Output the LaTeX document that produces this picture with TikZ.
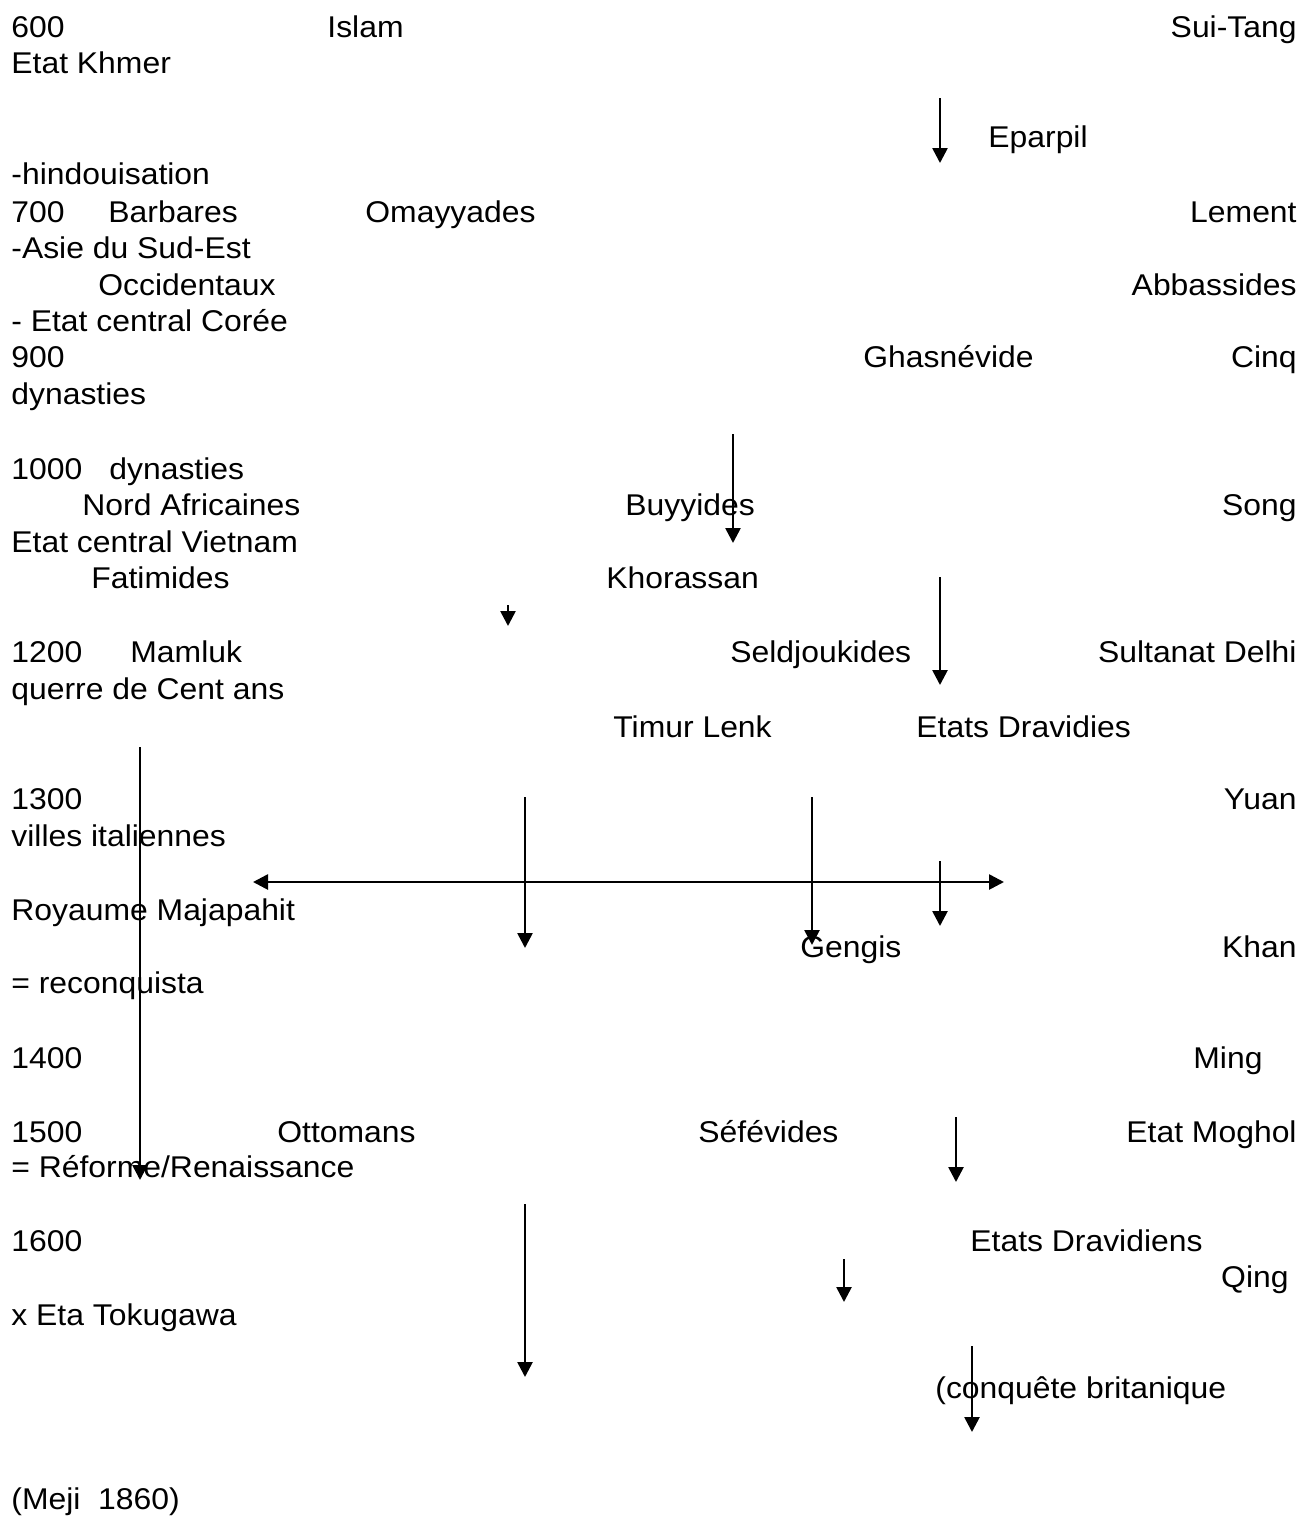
\documentclass[tikz,border=0pt]{standalone}
\usepackage{fontspec}
\setmainfont{Liberation Sans}[FakeStretch=1.063]
\usetikzlibrary{arrows.meta}

\begin{document}
\begin{tikzpicture}[x=0.5pt,y=-0.5pt,
  lbl/.style={anchor=base west,inner sep=0pt,font=\fontsize{15}{18}\selectfont},
  rlbl/.style={lbl,anchor=base east},
  arr/.style={-{Triangle[length=7.5pt,width=7.5pt]},line width=1.3pt},
  darr/.style={{Triangle[length=7.5pt,width=7.5pt]}-{Triangle[length=7.5pt,width=7.5pt]},line width=1.3pt}]
  \fill[white] (0,0) rectangle (1301,1517);
  \useasboundingbox (0,0) rectangle (1301,1517);
  % left column
  \node[lbl] (y600) at (11,37) {600};
  \node[lbl] (khmer) at (11,73) {Etat Khmer};
  \node[lbl] (hindou) at (11,184) {-hindouisation};
  \node[lbl] (y700) at (11,222) {700};
  \node[lbl] (asie) at (11,258) {-Asie du Sud-Est};
  \node[lbl] (coree) at (11,331) {- Etat central Corée};
  \node[lbl] (y900) at (11,367) {900};
  \node[lbl] (dyn) at (11,404) {dynasties};
  \node[lbl] (y1000) at (11,479) {1000};
  \node[lbl] (vietnam) at (11,552) {Etat central Vietnam};
  \node[lbl] (y1200) at (11,662) {1200};
  \node[lbl] (cent) at (11,699) {querre de Cent ans};
  \node[lbl] (y1300) at (11,809) {1300};
  \node[lbl] (villes) at (11,846) {villes italiennes};
  \node[lbl] (majapahit) at (11,920) {Royaume Majapahit};
  \node[lbl] (reconq) at (11,993) {= reconquista};
  \node[lbl] (y1400) at (11,1068) {1400};
  \node[lbl] (y1500) at (11,1142) {1500};
  \node[lbl] (reforme) at (11,1177) {= Réforme/Renaissance};
  \node[lbl] (y1600) at (11,1251) {1600};
  \node[lbl] (tokugawa) at (11,1325) {x Eta Tokugawa};
  \node[lbl] (meji) at (11,1509) {(Meji \ 1860)};
  % inner entries
  \node[lbl] (islam) at (327,37) {Islam};
  \node[rlbl] (suitang) at (1297,37) {Sui-Tang};
  \node[lbl] (eparpil) at (988,147) {Eparpil};
  \node[lbl] (barbares) at (108,222) {Barbares};
  \node[lbl] (omayyades) at (365,222) {Omayyades};
  \node[rlbl] (lement) at (1297,222) {Lement};
  \node[lbl] (occid) at (98,295) {Occidentaux};
  \node[rlbl] (abbas) at (1297,295) {Abbassides};
  \node[lbl] (ghasn) at (863,367) {Ghasnévide};
  \node[rlbl] (cinq) at (1297,367) {Cinq};
  \node[lbl] (dynnord) at (109,479) {dynasties};
  \node[lbl] (nordaf) at (82,515) {Nord Africaines};
  \node[lbl] (buyy) at (625,515) {Buyyides};
  \node[rlbl] (song) at (1297,515) {Song};
  \node[lbl] (fatim) at (91,588) {Fatimides};
  \node[lbl] (khoras) at (606,588) {Khorassan};
  \node[lbl] (mamluk) at (130,662) {Mamluk};
  \node[lbl] (seldj) at (730,662) {Seldjoukides};
  \node[rlbl] (delhi) at (1297,662) {Sultanat Delhi};
  \node[lbl] (timur) at (613,737) {Timur Lenk};
  \node[lbl] (dravid) at (916,737) {Etats Dravidies};
  \node[rlbl] (yuan) at (1297,809) {Yuan};
  \node[lbl] (gengis) at (800,957) {Gengis};
  \node[rlbl] (khan) at (1297,957) {Khan};
  \node[lbl] (ming) at (1193,1068) {Ming};
  \node[lbl] (ottom) at (277,1142) {Ottomans};
  \node[lbl] (sefev) at (698,1142) {Séfévides};
  \node[rlbl] (moghol) at (1297,1142) {Etat Moghol};
  \node[lbl] (dravids) at (970,1251) {Etats Dravidiens};
  \node[rlbl] (qing) at (1289,1287) {Qing};
  \node[lbl] (brit) at (935,1398) {(conquête britanique};
  % arrows
  \coordinate (a1s) at (940,98);    \coordinate (a1e) at (940,163);
  \coordinate (a2s) at (733,434);   \coordinate (a2e) at (733,543);
  \coordinate (a3s) at (508,605);   \coordinate (a3e) at (508,626);
  \coordinate (a4s) at (940,577);   \coordinate (a4e) at (940,685);
  \coordinate (a5s) at (140,747);   \coordinate (a5e) at (140,1180);
  \coordinate (a6s) at (525,797);   \coordinate (a6e) at (525,948);
  \coordinate (a7s) at (812,797);   \coordinate (a7e) at (812,945);
  \coordinate (a8s) at (940,861);   \coordinate (a8e) at (940,926);
  \coordinate (hl) at (253,882);    \coordinate (hr) at (1004,882);
  \coordinate (a9s) at (956,1117);  \coordinate (a9e) at (956,1182);
  \coordinate (a10s) at (525,1204); \coordinate (a10e) at (525,1377);
  \coordinate (a11s) at (844,1259); \coordinate (a11e) at (844,1302);
  \coordinate (a12s) at (972,1346); \coordinate (a12e) at (972,1432);
  \draw[arr] (a1s) -- (a1e);
  \draw[arr] (a2s) -- (a2e);
  \draw[arr] (a3s) -- (a3e);
  \draw[arr] (a4s) -- (a4e);
  \draw[arr] (a5s) -- (a5e);
  \draw[arr] (a6s) -- (a6e);
  \draw[arr] (a7s) -- (a7e);
  \draw[arr] (a8s) -- (a8e);
  \draw[darr] (hl) -- (hr);
  \draw[arr] (a9s) -- (a9e);
  \draw[arr] (a10s) -- (a10e);
  \draw[arr] (a11s) -- (a11e);
  \draw[arr] (a12s) -- (a12e);
\end{tikzpicture}
\end{document}
